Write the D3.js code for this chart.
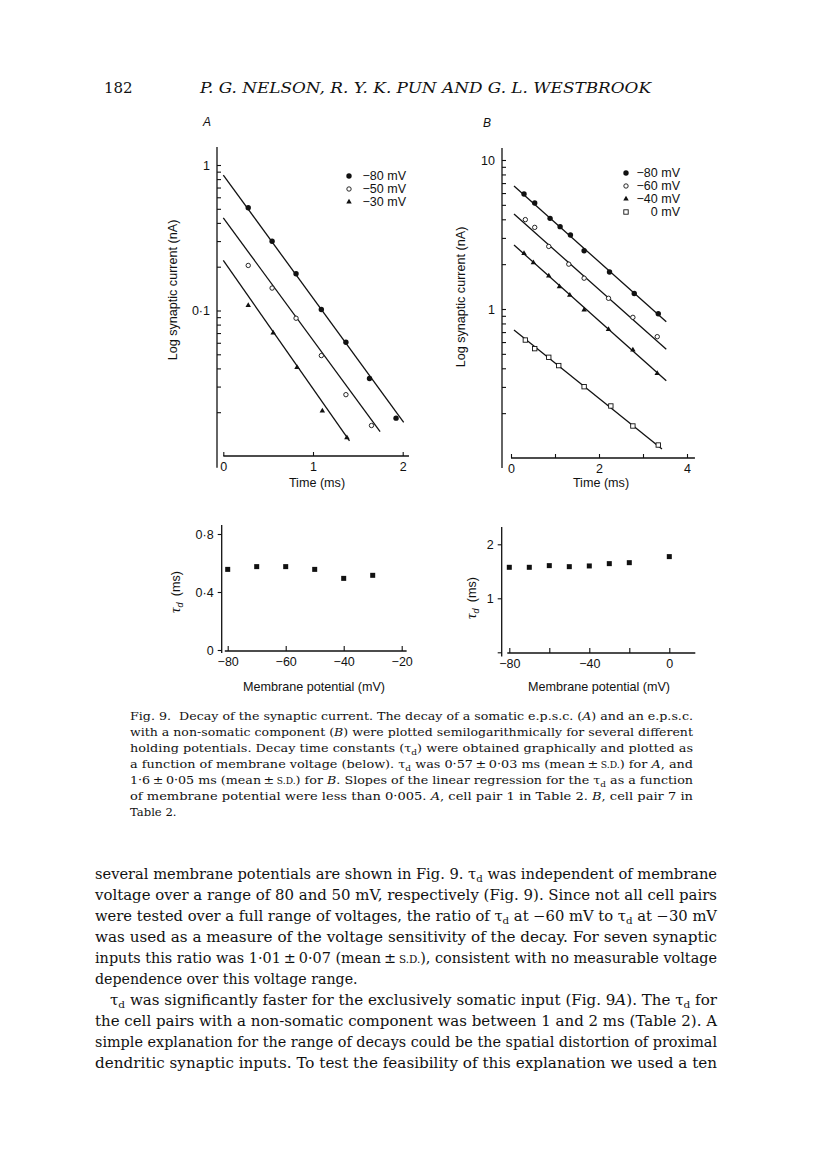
<!DOCTYPE html>
<html>
<head>
<meta charset="utf-8">
<script src="https://cdn.jsdelivr.net/npm/d3@7"></script>
<style>
  body { margin: 0; background: #fff; }
  svg { display: block; }
  .sans { font-family: "Liberation Sans", Arial, sans-serif; fill: #111; }
  .serif { font-family: "DejaVu Serif", "Liberation Serif", serif; fill: #111; }
</style>
</head>
<body>
<script>
// Panel A (top): somatic e.p.s.c., log current against time.
const legendA = ['\u221280 mV', '\u221250 mV', '\u221230 mV'];
const symbolA = ['dot', 'ring', 'tri'];
const timesA = [
    [0.278, 0.544, 0.811, 1.093, 1.367, 1.630, 1.926],
    [0.278, 0.544, 0.811, 1.093, 1.367, 1.652],
    [0.278, 0.556, 0.822, 1.104, 1.378]
];
const currentA = [
    [0.508, 0.299, 0.179, 0.1016, 0.0605, 0.0341, 0.0182],
    [0.204, 0.1426, 0.0885, 0.049, 0.0264, 0.0162],
    [0.1082, 0.0701, 0.0407, 0.0204, 0.01337]
];
// fitted lines: [start time, start current], [end time, end current]
const fitA = [
    [[0, 0.853], [2.011, 0.0170]],
    [[0, 0.433], [1.748, 0.0147]],
    [[0, 0.221], [1.407, 0.01268]]
];
const yTicksA = [0.02, 0.03, 0.04, 0.05, 0.06, 0.07, 0.08, 0.09,
    0.1, 0.2, 0.3, 0.4, 0.5, 0.6, 0.7, 0.8, 0.9, 1];

// Panel B (top): e.p.s.c. with non-somatic component.
const legendB = ['\u221280 mV', '\u221260 mV', '\u221240 mV', '0 mV'];
const symbolB = ['dot', 'ring', 'tri', 'box'];
const timesB = [
    [0.296, 0.539, 0.888, 1.116, 1.351, 1.662, 2.239, 2.801, 3.347],
    [0.326, 0.539, 0.858, 1.313, 1.662, 2.216, 2.770, 3.324],
    [0.296, 0.509, 0.858, 1.101, 1.336, 1.662, 2.216, 2.770, 3.324],
    [0.326, 0.539, 0.858, 1.085, 1.662, 2.269, 2.770, 3.347]
];
const currentB = [
    [5.91, 5.14, 4.06, 3.57, 3.14, 2.46, 1.77, 1.27, 0.93],
    [3.98, 3.53, 2.63, 2.00, 1.61, 1.18, 0.879, 0.652],
    [2.36, 2.05, 1.665, 1.41, 1.24, 0.985, 0.73, 0.531, 0.37],
    [0.619, 0.542, 0.474, 0.417, 0.301, 0.2234, 0.164, 0.1222]
];
const fitB = [
    [[0.068, 6.69], [3.529, 0.822]],
    [[0.068, 4.34], [3.529, 0.536]],
    [[0.068, 2.69], [3.529, 0.330]],
    [[0.068, 0.723], [3.431, 0.1149]]
];
const yTicksB = [0.2, 0.3, 0.4, 0.5, 0.6, 0.7, 0.8, 0.9,
    1, 2, 3, 4, 5, 6, 7, 8, 9, 10];

// Lower panels: decay time constant against membrane potential.
const potentialA = [-80, -70, -60, -50, -40, -30];
const tauA = [0.556, 0.575, 0.575, 0.556, 0.494, 0.515];
const potentialB = [-80, -70, -60, -50, -40, -30, -20, 0];
const tauB = [1.574, 1.574, 1.605, 1.586, 1.599, 1.642, 1.660, 1.772];

// Page text. Markers: _d subscript d, [s.d.] small caps, *x* italic.
const headerTitle = 'P. G. NELSON, R. Y. K. PUN AND G. L. WESTBROOK';
const captionLines = [
    'Fig. 9.  Decay of the synaptic current. The decay of a somatic e.p.s.c. (*A*) and an e.p.s.c.',
    'with a non-somatic component (*B*) were plotted semilogarithmically for several different',
    'holding potentials. Decay time constants (\u03c4_d) were obtained graphically and plotted as',
    'a function of membrane voltage (below). \u03c4_d was 0\u00b757\u2009\u00b1\u20090\u00b703 ms (mean\u2009\u00b1\u2009[s.d.]) for *A*, and',
    '1\u00b76\u2009\u00b1\u20090\u00b705 ms (mean\u2009\u00b1\u2009[s.d.]) for *B*. Slopes of the linear regression for the \u03c4_d as a function',
    'of membrane potential were less than 0\u00b7005. *A*, cell pair 1 in Table 2. *B*, cell pair 7 in',
    'Table 2.'
];
const bodyLines = [
    'several membrane potentials are shown in Fig. 9. \u03c4_d was independent of membrane',
    'voltage over a range of 80 and 50 mV, respectively (Fig. 9). Since not all cell pairs',
    'were tested over a full range of voltages, the ratio of \u03c4_d at \u221260 mV to \u03c4_d at \u221230 mV',
    'was used as a measure of the voltage sensitivity of the decay. For seven synaptic',
    'inputs this ratio was 1\u00b701\u2009\u00b1\u20090\u00b707 (mean\u2009\u00b1\u2009[s.d.]), consistent with no measurable voltage',
    'dependence over this voltage range.',
    '\u03c4_d was significantly faster for the exclusively somatic input (Fig. 9*A*). The \u03c4_d for',
    'the cell pairs with a non-somatic component was between 1 and 2 ms (Table 2). A',
    'simple explanation for the range of decays could be the spatial distortion of proximal',
    'dendritic synaptic inputs. To test the feasibility of this explanation we used a ten'
];

const width = 816, height = 1160;
const svg = d3.select('body').append('svg')
    .attr('width', width)
    .attr('height', height);
svg.append('rect').attr('width', width).attr('height', height).attr('fill', '#fff');

const ink = '#111';

// Draw one marker of the given kind at (x, y).
function drawSymbol(g, kind, x, y) {
    if (kind === 'dot') {
        g.append('circle').attr('cx', x).attr('cy', y).attr('r', 2.7).attr('fill', ink);
    } else if (kind === 'ring') {
        g.append('circle').attr('cx', x).attr('cy', y).attr('r', 2.2)
            .attr('fill', '#fff').attr('stroke', ink).attr('stroke-width', 0.9);
    } else if (kind === 'tri') {
        g.append('path').attr('d', d3.symbol(d3.symbolTriangle, 13)())
            .attr('transform', 'translate(' + x + ',' + y + ')').attr('fill', ink);
    } else if (kind === 'box') {
        g.append('rect').attr('x', x - 2.2).attr('y', y - 2.2).attr('width', 4.4).attr('height', 4.4)
            .attr('fill', '#fff').attr('stroke', ink).attr('stroke-width', 0.9);
    } else if (kind === 'sq') {
        g.append('rect').attr('x', x - 2.5).attr('y', y - 2.5).attr('width', 5).attr('height', 5)
            .attr('fill', ink);
    }
}

// Style an axis group: thin dark ticks, sans labels, no domain path.
function styleAxis(g, size) {
    g.select('.domain').remove();
    g.selectAll('line').attr('stroke', ink).attr('stroke-width', 1.1);
    g.selectAll('text').attr('class', 'sans').attr('font-size', size || 12.5).attr('fill', ink);
}

function axisLine(x1, y1, x2, y2) {
    svg.append('line').attr('x1', x1).attr('y1', y1).attr('x2', x2).attr('y2', y2)
        .attr('stroke', ink).attr('stroke-width', 1.3);
}

function fmt(d) { return String(d).replace('.', '\u00b7').replace('-', '\u2212'); }

// Rotated sans axis title; tau label gets italic symbol and subscript.
function yTitle(x, y, tau, text) {
    const t = svg.append('text').attr('class', 'sans').attr('font-size', 12.6)
        .attr('text-anchor', 'middle')
        .attr('transform', 'translate(' + x + ',' + y + ')rotate(-90)');
    if (tau) {
        t.append('tspan').attr('font-style', 'italic').attr('font-family', '"Liberation Serif", serif')
            .attr('font-size', 15).text('\u03c4');
        t.append('tspan').attr('font-style', 'italic').attr('font-size', 9).attr('dy', 3).text('d');
        t.append('tspan').attr('dy', -3).text('\u2002(ms)');
    } else t.text(text);
}

function xTitle(x, y, text) {
    svg.append('text').attr('class', 'sans').attr('font-size', 12.6)
        .attr('text-anchor', 'middle').attr('x', x).attr('y', y).text(text);
}

// Legend column: marker, then label right-aligned on a common edge.
function legend(labels, symbols, mx, tx, y0, step) {
    labels.forEach((label, k) => {
        const ly = y0 + k * step;
        drawSymbol(svg, symbols[k], mx, ly);
        svg.append('text').attr('class', 'sans').attr('font-size', 12.5)
            .attr('x', tx).attr('y', ly + 4.4).attr('text-anchor', 'end').text(label);
    });
}

/******************************************************************************/
// Panel A, top.
const xA = d3.scaleLinear().domain([0, 2]).range([223.3, 402.7]);
const yA = d3.scaleLog().domain([0.01, 1]).range([456, 165]);

axisLine(217, yA(1.33), 217, yA(0.0083));
svg.append('g').attr('transform', 'translate(217,0)')
    .call(d3.axisLeft(yA).tickValues(yTicksA).tickSize(-4).tickPadding(7)
        .tickFormat(d => (d === 1 || d === 0.1) ? fmt(d) : ''))
    .call(styleAxis);
axisLine(xA(0), 456, xA(2.07), 456);
svg.append('g').attr('transform', 'translate(0,456)')
    .call(d3.axisBottom(xA).tickValues([0, 1, 2]).tickSize(-4).tickPadding(6).tickFormat(fmt))
    .call(styleAxis);

const lineA = d3.line().x(d => xA(d[0])).y(d => yA(d[1]));
const plotA = svg.append('g');
fitA.forEach(f => {
    plotA.append('path').attr('d', lineA(f)).attr('fill', 'none')
        .attr('stroke', ink).attr('stroke-width', 1.3);
});
timesA.forEach((ts, k) => {
    ts.forEach((t, i) => drawSymbol(plotA, symbolA[k], xA(t), yA(currentA[k][i])));
});
legend(legendA, symbolA, 349, 406, 176, 13);
yTitle(177, 290, false, 'Log synaptic current (nA)');
xTitle(317, 487, 'Time (ms)');
svg.append('text').attr('class', 'sans').attr('font-size', 12).attr('font-style', 'italic')
    .attr('x', 203).attr('y', 126).text('A');

// Panel B, top.
const xB = d3.scaleLinear().domain([0, 4]).range([511, 687]);
const yB = d3.scaleLog().domain([0.1, 10]).range([458, 160]);

axisLine(502, yB(12.04), 502, yB(0.0857));
svg.append('g').attr('transform', 'translate(502,0)')
    .call(d3.axisLeft(yB).tickValues(yTicksB).tickSize(-4).tickPadding(7)
        .tickFormat(d => (d === 1 || d === 10) ? fmt(d) : ''))
    .call(styleAxis);
axisLine(xB(0), 458, xB(4.18), 458);
svg.append('g').attr('transform', 'translate(0,458)')
    .call(d3.axisBottom(xB).tickValues([0, 1, 2, 3, 4]).tickSize(-4).tickPadding(6)
        .tickFormat(d => d % 2 === 0 ? fmt(d) : ''))
    .call(styleAxis);

const lineB = d3.line().x(d => xB(d[0])).y(d => yB(d[1]));
const plotB = svg.append('g');
fitB.forEach(f => {
    plotB.append('path').attr('d', lineB(f)).attr('fill', 'none')
        .attr('stroke', ink).attr('stroke-width', 1.3);
});
timesB.forEach((ts, k) => {
    ts.forEach((t, i) => drawSymbol(plotB, symbolB[k], xB(t), yB(currentB[k][i])));
});
legend(legendB, symbolB, 626, 680, 173, 13);
yTitle(465, 297, false, 'Log synaptic current (nA)');
xTitle(601, 487, 'Time (ms)');
svg.append('text').attr('class', 'sans').attr('font-size', 12).attr('font-style', 'italic')
    .attr('x', 483).attr('y', 127).text('B');

// Panel A, bottom.
const xA2 = d3.scaleLinear().domain([-80, -20]).range([227.7, 401.7]);
const yA2 = d3.scaleLinear().domain([0, 0.8]).range([650, 534]);

axisLine(221.7, yA2(0.862), 221.7, yA2(-0.02));
svg.append('g').attr('transform', 'translate(221.7,0)')
    .call(d3.axisLeft(yA2).tickValues([0, 0.4, 0.8]).tickSize(4).tickPadding(4).tickFormat(fmt))
    .call(styleAxis);
axisLine(xA2(-81), 651, xA2(-18.3), 651);
svg.append('g').attr('transform', 'translate(0,651)')
    .call(d3.axisBottom(xA2).tickValues([-80, -60, -40, -20]).tickSize(-5).tickPadding(6).tickFormat(fmt))
    .call(styleAxis);
potentialA.forEach((v, i) => drawSymbol(svg, 'sq', xA2(v), yA2(tauA[i])));
yTitle(180, 592, true);
xTitle(314, 691, 'Membrane potential (mV)');

// Panel B, bottom.
const xB2 = d3.scaleLinear().domain([-80, 0]).range([509.3, 669.3]);
const yB2 = d3.scaleLinear().domain([0, 2]).range([652.3, 544.3]);

axisLine(501.7, yB2(2.32), 501.7, yB2(-0.08));
svg.append('g').attr('transform', 'translate(501.7,0)')
    .call(d3.axisLeft(yB2).tickValues([0, 1, 2]).tickSize(4).tickPadding(4)
        .tickFormat(d => d === 0 ? '' : fmt(d)))
    .call(styleAxis);
axisLine(xB2(-81), 653, xB2(13), 653);
svg.append('g').attr('transform', 'translate(0,653)')
    .call(d3.axisBottom(xB2).tickValues([-80, -60, -40, -20, 0]).tickSize(-5).tickPadding(6)
        .tickFormat(d => d % 40 === 0 ? fmt(d) : ''))
    .call(styleAxis);
potentialB.forEach((v, i) => drawSymbol(svg, 'sq', xB2(v), yB2(tauB[i])));
yTitle(476, 598, true);
xTitle(599, 691, 'Membrane potential (mV)');

/******************************************************************************/
// Running text of the page, justified with textLength.
function richText(x, y, str, size, justify) {
    const t = svg.append('text').attr('class', 'serif').attr('font-size', size)
        .attr('x', x).attr('y', y).attr('xml:space', 'preserve');
    if (justify) t.attr('textLength', justify).attr('lengthAdjust', 'spacingAndGlyphs');
    const parts = str.split(/(_d|\[s\.d\.\]|\*[^*]+\*)/);
    let shifted = false;
    parts.forEach(p => {
        if (!p) return;
        const s = t.append('tspan');
        if (shifted) { s.attr('dy', -size * 0.22); shifted = false; }
        if (p === '_d') {
            s.attr('font-size', size * 0.7).attr('dy', size * 0.22).text('d');
            shifted = true;
        } else if (p === '[s.d.]') {
            s.attr('font-size', size * 0.72).text('S.D.');
        } else if (p[0] === '*') {
            s.attr('font-style', 'italic').text(p.slice(1, -1));
        } else {
            s.text(p);
        }
    });
}

svg.append('text').attr('class', 'serif').attr('font-size', 15)
    .attr('x', 104).attr('y', 93).text('182');
svg.append('text').attr('class', 'serif').attr('font-size', 15).attr('font-style', 'italic')
    .attr('x', 200).attr('y', 93).attr('textLength', 451).attr('lengthAdjust', 'spacingAndGlyphs')
    .text(headerTitle);

captionLines.forEach((line, i) => {
    const last = i === captionLines.length - 1;
    richText(130, 720 + i * 16, line, 11.6, last ? null : 563);
});

bodyLines.forEach((line, i) => {
    const lastOfPara = i === 5;
    const indent = i === 6 ? 15 : 0;
    richText(95 + indent, 879 + i * 21, line, 14.2, lastOfPara ? null : 622 - indent);
});
</script>
</body>
</html>
